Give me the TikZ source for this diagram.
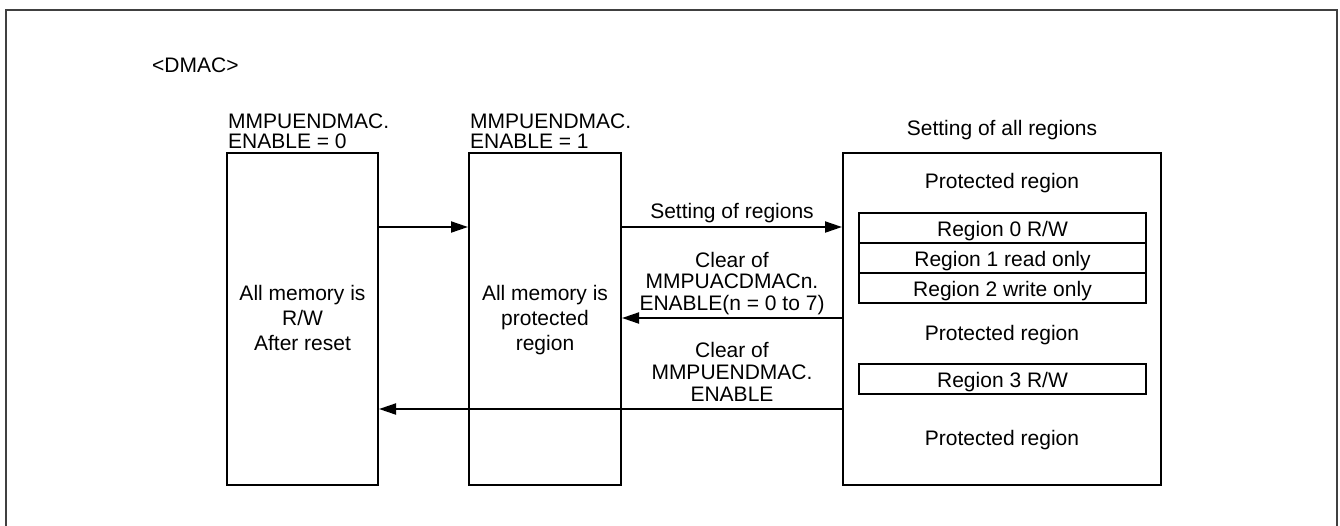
\documentclass[tikz,border=0pt]{standalone}
\usepackage{fontspec}
\setmainfont{Liberation Sans}
\usetikzlibrary{arrows.meta}
\newcommand{\mlines}[3]{{\fontsize{21}{#1}\selectfont\begin{tabular}[t]{@{}#2@{}}#3\end{tabular}}}
\begin{document}
\begin{tikzpicture}[x=1pt,y=-1pt,
  box/.style={draw=black, line width=2pt, inner sep=0pt, fill=white},
  lbl/.style={inner sep=0pt, anchor=base, font=\fontsize{21}{25}\selectfont},
  lbll/.style={inner sep=0pt, anchor=base west, font=\fontsize{21}{25}\selectfont},
  arr/.style={line width=2pt, -{Triangle[length=17pt,width=11pt]}},
  outer/.style={draw=black!75, line width=2pt}]
\useasboundingbox (0,0) rectangle (1340,525);
% outer frame (bottom edge lies outside the picture)
\coordinate (f1) at (6,540);
\coordinate (f2) at (6,10);
\coordinate (f3) at (1337,10);
\coordinate (f4) at (1337,540);
\draw[outer] (f1) -- (f2) -- (f3) -- (f4);

\node[lbll] (dmac) at (152,72) {<DMAC>};

% boxes
\node[box, minimum width=151pt, minimum height=332pt] (b1) at (302.5,319) {};
\node[box, minimum width=152pt, minimum height=332pt] (b2) at (545,319) {};
\node[box, minimum width=318pt, minimum height=332pt] (b3) at (1002,319) {};

% headers
\node[lbll] (h1) at (228,128) {\mlines{20}{l}{MMPUENDMAC.\\ENABLE = 0}};
\node[lbll] (h2) at (470,128) {\mlines{20}{l}{MMPUENDMAC.\\ENABLE = 1}};
\node[lbl] (h3) at (1002,135) {Setting of all regions};

% box texts
\node[lbl] (t1) at (302.5,300) {\mlines{25}{c}{All memory is\\R/W\\After reset}};
\node[lbl] (t2) at (545,300) {\mlines{25}{c}{All memory is\\protected\\region}};

% region contents
\node[lbl] (p1) at (1002,188) {Protected region};
\node[box, minimum width=287pt, minimum height=30pt] (r0) at (1002.5,228) {};
\node[box, minimum width=287pt, minimum height=30pt] (r1) at (1002.5,258) {};
\node[box, minimum width=287pt, minimum height=30pt] (r2) at (1002.5,288) {};
\node[lbl] (r0t) at (1002.5,236) {Region 0 R/W};
\node[lbl] (r1t) at (1002.5,266) {Region 1 read only};
\node[lbl] (r2t) at (1002.5,296) {Region 2 write only};
\node[lbl] (p2) at (1002,340) {Protected region};
\node[box, minimum width=287pt, minimum height=30pt] (r3) at (1002.5,379) {};
\node[lbl] (r3t) at (1002.5,387) {Region 3 R/W};
\node[lbl] (p3) at (1002,445) {Protected region};

% arrows
\coordinate (ya) at (0,227);
\coordinate (yb) at (0,318);
\coordinate (yc) at (0,409);
\draw[arr] (b1.east |- ya) -- (b2.west |- ya);
\draw[arr] (b2.east |- ya) -- (b3.west |- ya);
\draw[arr] (b3.west |- yb) -- (b2.east |- yb);
\draw[arr] (b3.west |- yc) -- (b1.east |- yc);

% arrow labels
\node[lbl] (la) at (732,218) {Setting of regions};
\node[lbl] (lb) at (732,267) {\mlines{21.5}{c}{Clear of\\MMPUACDMACn.\\ENABLE(n = 0 to 7)}};
\node[lbl] (lc) at (732,357) {\mlines{22}{c}{Clear of\\MMPUENDMAC.\\ENABLE}};
\end{tikzpicture}
\end{document}
